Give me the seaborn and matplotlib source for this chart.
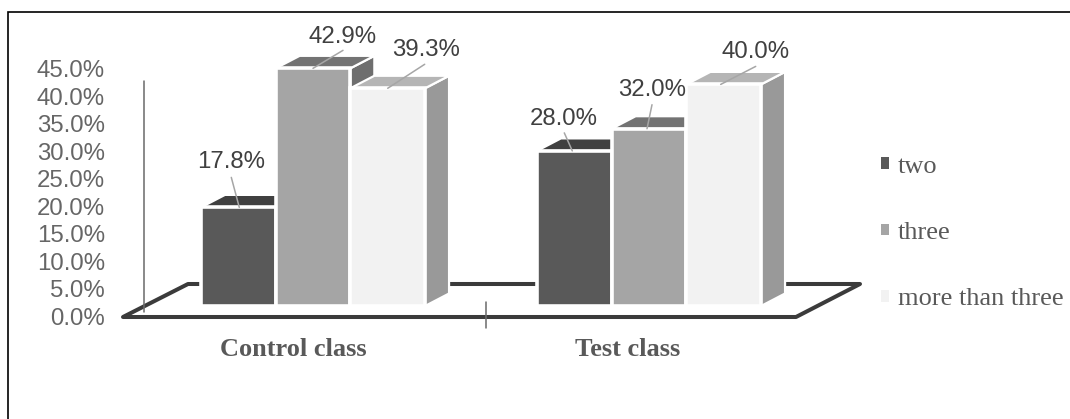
import matplotlib
matplotlib.use("Agg")
import matplotlib.pyplot as plt
import pandas as pd
import seaborn as sns
from matplotlib.lines import Line2D
from matplotlib.patches import Patch, Polygon
from matplotlib.ticker import PercentFormatter
from matplotlib.transforms import Affine2D, IdentityTransform

classes = ["Control class", "Test class"]
groups = ["two", "three", "more than three"]
two = [17.8, 28.0]
three = [42.9, 32.0]
more_than_three = [39.3, 40.0]
y_ticks = [0, 5, 10, 15, 20, 25, 30, 35, 40, 45]

front_colors = ["#595959", "#a5a5a5", "#f2f2f2"]
top_colors = ["#404040", "#737373", "#b5b5b5"]
side_colors = ["#474747", "#6e6e6e", "#999999"]

W, H = 1070, 419
SANS = "Liberation Sans"
SERIF = "Liberation Serif"
DEPTH_X, DEPTH_Y = 24, 12.5

sns.set_theme(style="white")
plt.rcParams["font.family"] = [SANS, "DejaVu Sans"]

df = pd.DataFrame({
    "class": classes * 3,
    "group": [g for g in groups for _ in classes],
    "share": two + three + more_than_three,
})

fig = plt.figure(figsize=(W / 100, H / 100), dpi=100, facecolor="white")
# Coordinates measured from the top-left corner of the canvas, in pixels.
px = Affine2D().scale(1, -1).translate(0, H)
screen = IdentityTransform()

ax = fig.add_axes([0, 0, 1, 1], facecolor="none")
sns.barplot(
    data=df, x="class", y="share", hue="group", hue_order=groups,
    palette=front_colors, width=0.667, gap=0, edgecolor="white",
    linewidth=2.6, legend=False, saturation=1, ax=ax, zorder=5,
)
x_unit, y_unit = 336.0, 5.54
ax.set_xlim(-313.0 / x_unit, (W - 313.0) / x_unit)
ax.set_ylim((306 - H) / y_unit, 306 / y_unit)
ax.axis("off")
bars = sorted((b for c in ax.containers for b in c), key=lambda p: p.get_x())

# Floor of the pseudo-3D plot, drawn beneath the bars.
ax.add_patch(Polygon(
    [(123, 317), (796, 317), (860, 284), (188, 284)], closed=True, fill=False,
    edgecolor="#3b3b3b", linewidth=2.9, joinstyle="round",
    transform=px, zorder=1,
))
ax.add_line(Line2D([144, 144], [81, 312], color="#6a6a6a", lw=1.1,
                   transform=px, zorder=2))
ax.add_line(Line2D([486, 486], [302, 328], color="#6a6a6a", lw=1.1,
                   transform=px, zorder=2))

# Extrude every bar to get its top and side faces.
for i, bar in enumerate(bars):
    g = i % 3
    (x0, y0), (x1, y1) = ax.transData.transform(
        [(bar.get_x(), 0), (bar.get_x() + bar.get_width(), bar.get_height())])
    z = 3 + 0.1 * i
    ax.add_patch(Polygon(
        [(x1, y0), (x1 + DEPTH_X, y0 + DEPTH_Y), (x1 + DEPTH_X, y1 + DEPTH_Y), (x1, y1)],
        facecolor=side_colors[g], edgecolor="white", linewidth=1.6,
        transform=screen, zorder=z))
    ax.add_patch(Polygon(
        [(x0, y1), (x1, y1), (x1 + DEPTH_X, y1 + DEPTH_Y), (x0 + DEPTH_X, y1 + DEPTH_Y)],
        facecolor=top_colors[g], edgecolor="white", linewidth=1.6,
        transform=screen, zorder=z))
    bar.set_zorder(z + 0.05)

# Value labels with their leader lines, placed relative to each bar's top.
leader_start = [(1, 0), (0, 0), (0, 0), (-2, 0), (-2, 0), (-3, 0)]
leader_end = [(-7, 30), (30, 18), (37, 24), (-10, 18), (3, 24), (32, 18)]
label_pos = [(-7, 45), (30, 31), (38, 38), (-11, 32), (3, 39), (32, 32)]
for bar, s, e, t in zip(bars, leader_start, leader_end, label_pos):
    xc = bar.get_x() + bar.get_width() / 2
    v = bar.get_height()
    sx, sy = ax.transData.transform((xc, v))
    ax.add_line(Line2D([sx + s[0], sx + e[0]], [sy + s[1], sy + e[1]],
                       color="#a6a6a6", lw=1.1, transform=screen, zorder=10))
    ax.annotate(f"{v:.1f}%", xy=(xc, v), xytext=t, textcoords="offset pixels",
                ha="center", va="center", fontsize=17.3, color="#404040",
                family=SANS, zorder=11)

# Category names sit under the floor.
for cx, name in zip((293, 628), classes):
    ax.text(cx, 349, name, transform=px, ha="center", va="center",
            fontsize=19, fontweight="bold", family=SERIF, color="#595959")

# Percentage scale.
scale = fig.add_axes([109 / W, 1 - 316.5 / H, 30 / W, (316.5 - 68.5) / H], facecolor="none")
sns.despine(ax=scale, left=True, bottom=True, top=True, right=True)
scale.set_ylim(0, 45)
scale.set_yticks(y_ticks)
scale.yaxis.set_major_formatter(PercentFormatter(100, decimals=1))
scale.tick_params(axis="y", length=0, pad=3, labelsize=17.3, labelcolor="#666666")
scale.set_xticks([])

# Legend.
handles = [Patch(facecolor=c, edgecolor="none", label=g)
           for c, g in zip(front_colors, groups)]
fig.legend(
    handles=handles, loc="center left", bbox_to_anchor=(881 / W, 1 - 233 / H),
    frameon=False, prop={"family": SERIF, "size": 19}, labelcolor="#595959",
    handlelength=0.3, handleheight=0.3, handletextpad=0.34, labelspacing=1.68,
    borderpad=0, borderaxespad=0,
)

# Chart frame: only the top and left edges fall inside the canvas.
fig.add_artist(Line2D([8, 8, W], [H, 11.7, 11.7], color="black", lw=1.2,
                      transform=px, solid_joinstyle="miter"))

fig.savefig("out.png", dpi=100, facecolor="white")
